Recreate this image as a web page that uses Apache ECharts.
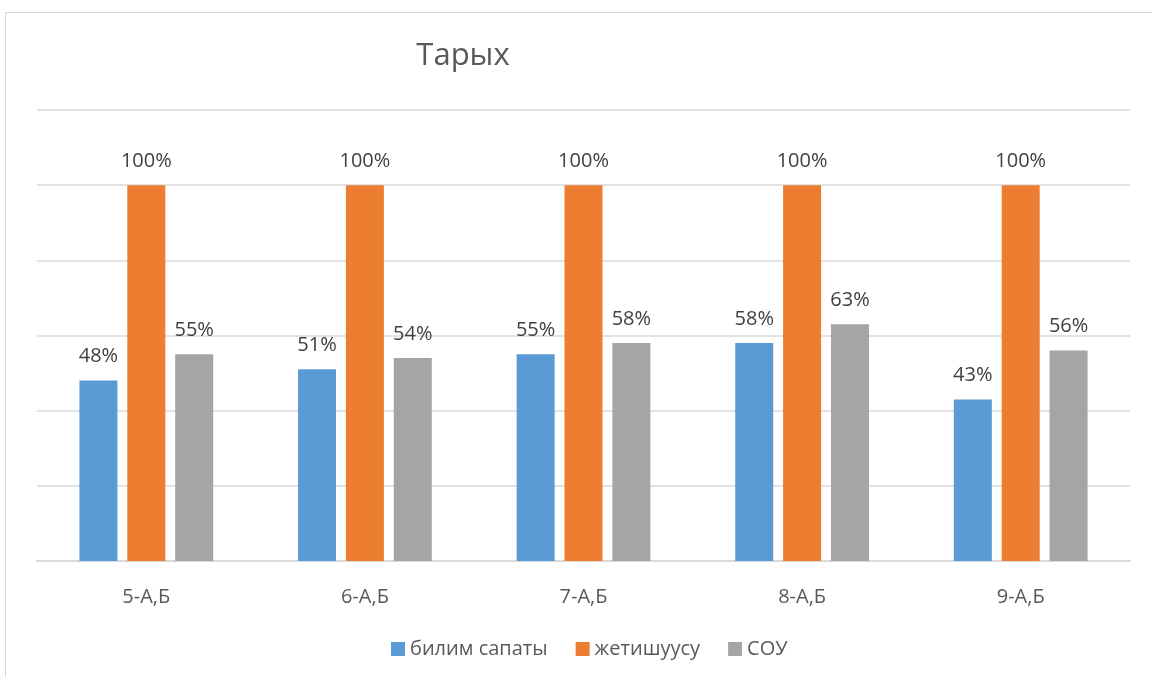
<!DOCTYPE html>
<html>
<head>
<meta charset="UTF-8">
<title>Тарых</title>
<style>
    * { padding: 0; margin: 0; box-sizing: border-box; }
    html, body { width: 100%; height: 100%; background: #fff; }
    .frame {
        position: absolute;
        left: 5px; top: 12px; right: 0; bottom: 0;
        border-left: 1px solid #d9d9d9;
        border-top: 1px solid #d9d9d9;
    }
    #chart { position: absolute; left: 0; top: 0; width: 1152px; height: 677px; }
</style>
</head>
<body>
<div class="frame"></div>
<div id="chart"></div>
<script src="https://cdn.jsdelivr.net/npm/echarts@6/dist/echarts.min.js"></script>
<script>
var categories = ['5-А,Б', '6-А,Б', '7-А,Б', '8-А,Б', '9-А,Б'];
var seriesNames = ['билим сапаты', 'жетишуусу', 'СОУ'];
var bilimSapaty = [48, 51, 55, 58, 43];
var jetishuusu = [100, 100, 100, 100, 100];
var sou = [55, 54, 58, 63, 56];

var colors = ['#5b9bd5', '#ed7d31', '#a5a5a5'];
var font = '"Open Sans", "Noto Sans", sans-serif';

var myChart = echarts.init(document.getElementById('chart'));

function makeSeries(name, data) {
    return {
        name: name,
        type: 'bar',
        data: data,
        barWidth: 38,
        barGap: '26%',
        barCategoryGap: '38%',
        label: {
            show: true,
            position: 'top',
            distance: 14,
            formatter: '{c}%',
            color: '#404040',
            fontSize: 20,
            fontFamily: font
        }
    };
}

var option = {
    animation: false,
    color: colors,
    title: {
        text: 'Тарых',
        left: 458,
        top: 36,
        textAlign: 'center',
        textStyle: { color: '#595959', fontSize: 31, fontWeight: 'normal', fontFamily: font }
    },
    legend: {
        data: seriesNames,
        left: 386,
        top: 634,
        itemWidth: 14,
        itemHeight: 14,
        itemGap: 28,
        icon: 'rect',
        textStyle: { color: '#595959', fontSize: 20, fontFamily: font }
    },
    grid: { left: 37, right: 22, top: 110, bottom: 116, containLabel: false },
    xAxis: {
        type: 'category',
        data: categories,
        axisTick: { show: false },
        axisLine: { lineStyle: { color: '#d9d9d9', width: 2 } },
        axisLabel: { color: '#595959', fontSize: 20, margin: 26, fontFamily: font }
    },
    yAxis: {
        type: 'value',
        min: 0,
        max: 120,
        interval: 20,
        axisLabel: { show: false },
        axisLine: { show: false },
        axisTick: { show: false },
        splitLine: { lineStyle: { color: '#d9d9d9', width: 1.5 } }
    },
    series: [
        makeSeries(seriesNames[0], bilimSapaty),
        makeSeries(seriesNames[1], jetishuusu),
        makeSeries(seriesNames[2], sou)
    ]
};
myChart.setOption(option);
</script>
</body>
</html>
